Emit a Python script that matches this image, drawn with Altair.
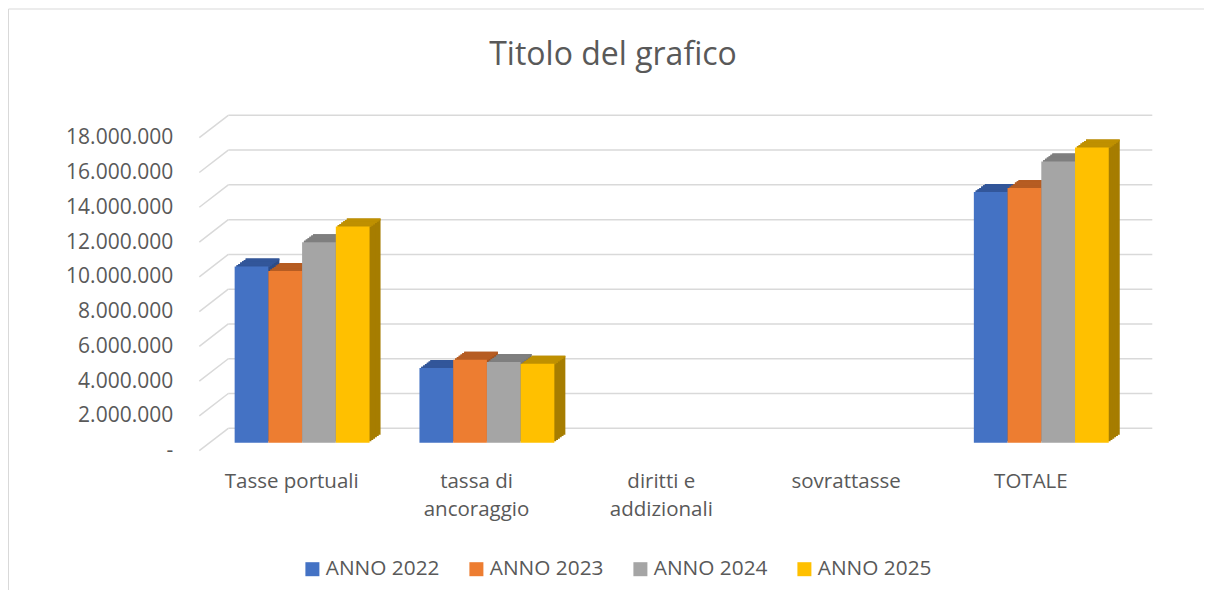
import altair as alt
import pandas as pd

# ---- data ----
categorie = ["Tasse portuali", "tassa di ancoraggio", "diritti e addizionali", "sovrattasse", "TOTALE"]
serie = ["ANNO 2022", "ANNO 2023", "ANNO 2024", "ANNO 2025"]
anno_2022 = [10130000, 4290000, 0, 0, 14420000]
anno_2023 = [9880000, 4770000, 0, 0, 14650000]
anno_2024 = [11530000, 4640000, 0, 0, 16170000]
anno_2025 = [12430000, 4540000, 0, 0, 16970000]
tick_valori = [0, 2000000, 4000000, 6000000, 8000000, 10000000, 12000000, 14000000, 16000000, 18000000]
titolo = "Titolo del grafico"
etichette_a_capo = {
    "tassa di ancoraggio": ["tassa di", "ancoraggio"],
    "diritti e addizionali": ["diritti e", "addizionali"],
}

# ---- styles ----
colori = ["#4472C4", "#ED7D31", "#A5A5A5", "#FFC000"]
colori_top = ["#32569A", "#B65C22", "#7F7F7F", "#BF9000"]
colori_side = ["#2C4C88", "#A5521D", "#737373", "#A67D00"]
TEXT = "#595959"
GRID = "#D9D9D9"
FONT = "Open Sans"

W, H = 924, 313
DX0, DY0 = 10.4, 8.0          # bar front face offset from front plane
DEPTH_X, DEPTH_Y = 11.0, 8.0  # bar depth
WALL_X, WALL_Y = 29.0, 22.4   # back wall offset

rows = []
for s, vals, ct, cs in zip(serie, [anno_2022, anno_2023, anno_2024, anno_2025], colori_top, colori_side):
    for cat, v in zip(categorie, vals):
        rows.append({"categoria": cat, "serie": s, "valore": v, "top": ct, "side": cs})
df = pd.DataFrame(rows)
ticks_df = pd.DataFrame({"v": tick_valori})
title_df = pd.DataFrame({"t": [titolo]})

wrap_expr = " : ".join(
    [f"datum.label == '{k}' ? {v!r}" for k, v in etichette_a_capo.items()] + ["datum.label"]
)

y_scale = alt.Scale(domain=[0, 18000000], nice=False, zero=True)
y_axis = alt.Axis(
    title=None, values=tick_valori, ticks=False, domain=False, grid=False,
    labelFont=FONT, labelFontSize=21, labelColor=TEXT, labelPadding=26.6,
    labelExpr="datum.value == 0 ? '-\u00a0\u00a0' : replace(replace(format(datum.value, ','), ',', '.'), ',', '.')",
)
x_axis = alt.Axis(
    title=None, labelAngle=0, ticks=False, domain=False, grid=False,
    labelFont=FONT, labelFontSize=20.5, labelColor=TEXT, labelPadding=21,
    labelLineHeight=28, labelLimit=0, labelExpr=wrap_expr, labelOffset=-DX0,
)


def x_enc(shift, axis=None):
    return alt.X(
        "categoria:N",
        sort=categorie,
        scale=alt.Scale(domain=categorie, paddingInner=0.27, paddingOuter=0.135, range=[shift, W + shift]),
        axis=axis,
    )


def y_enc(field="valore:Q"):
    return alt.Y(field, scale=y_scale, axis=y_axis)


xo_enc = alt.XOffset("serie:N", sort=serie, scale=alt.Scale(domain=serie, paddingInner=0, paddingOuter=0))

# back wall grid lines
grid_back = alt.Chart(ticks_df).mark_rule(color=GRID, strokeWidth=1.5, yOffset=-WALL_Y).encode(
    y=y_enc("v:Q"),
    x=alt.value(WALL_X),
    x2=alt.value(W + WALL_X),
)
# side wall diagonal grid lines
grid_side = alt.Chart(ticks_df).mark_rule(color=GRID, strokeWidth=1.5, y2Offset=-WALL_Y).encode(
    y=y_enc("v:Q"),
    y2="v:Q",
    x=alt.value(0),
    x2=alt.value(WALL_X),
)

base = alt.Chart(df).transform_filter("datum.valore > 0")
N = 6
side_layers = []
top_layers = []
for k in range(N, 0, -1):
    f = k / N
    ox = DX0 + DEPTH_X * f
    oy = DY0 + DEPTH_Y * f
    side_layers.append(
        base.mark_bar(yOffset=-oy, y2Offset=-oy).encode(
            x=x_enc(ox), xOffset=xo_enc,
            y=y_enc(),
            color=alt.Color("side:N", scale=None, legend=None),
        )
    )
    top_layers.append(
        base.mark_bar(yOffset=-oy, y2Offset=-(oy - DEPTH_Y / N) + 0.5).encode(
            x=x_enc(ox), xOffset=xo_enc,
            y=y_enc(),
            y2="valore:Q",
            color=alt.Color("top:N", scale=None, legend=None),
        )
    )

front = alt.Chart(df).mark_bar(yOffset=-DY0, y2Offset=-DY0).encode(
    x=x_enc(DX0, x_axis),
    xOffset=xo_enc,
    y=y_enc(),
    color=alt.Color(
        "serie:N", sort=serie,
        scale=alt.Scale(domain=serie, range=colori),
        legend=alt.Legend(
            title=None, orient="none", legendX=102.7, legendY=420.7, direction="horizontal",
            symbolType="square", symbolSize=196, symbolStrokeWidth=0, labelFont=FONT,
            labelFontSize=20.8, labelColor=TEXT, labelOffset=3, columnPadding=26, padding=0,
        ),
    ),
)

title_layer = alt.Chart(title_df).mark_text(
    font=FONT, fontSize=32, color=TEXT, align="center", baseline="alphabetic"
).encode(text="t:N", x=alt.value(413.7), y=alt.value(-72.7))

border_left = alt.Chart(title_df).mark_rule(color=GRID, strokeWidth=1).encode(
    x=alt.value(-190.8), y=alt.value(-128.7), y2=alt.value(460)
)
border_top = alt.Chart(title_df).mark_rule(color=GRID, strokeWidth=1).encode(
    x=alt.value(-190.8), x2=alt.value(1010), y=alt.value(-128.7)
)

chart = alt.layer(
    grid_back, grid_side, *side_layers, *top_layers, front, title_layer, border_left, border_top
).resolve_scale(color="independent", x="independent", xOffset="independent").properties(
    width=W, height=H,
    padding={"left": 191.3, "top": 129.7, "right": 80.7, "bottom": 139.3},
    autosize=alt.AutoSizeParams(type="none"),
    background="white",
).configure_view(stroke=None)

chart.save("out.html", embed_options={"renderer": "svg", "actions": False})
